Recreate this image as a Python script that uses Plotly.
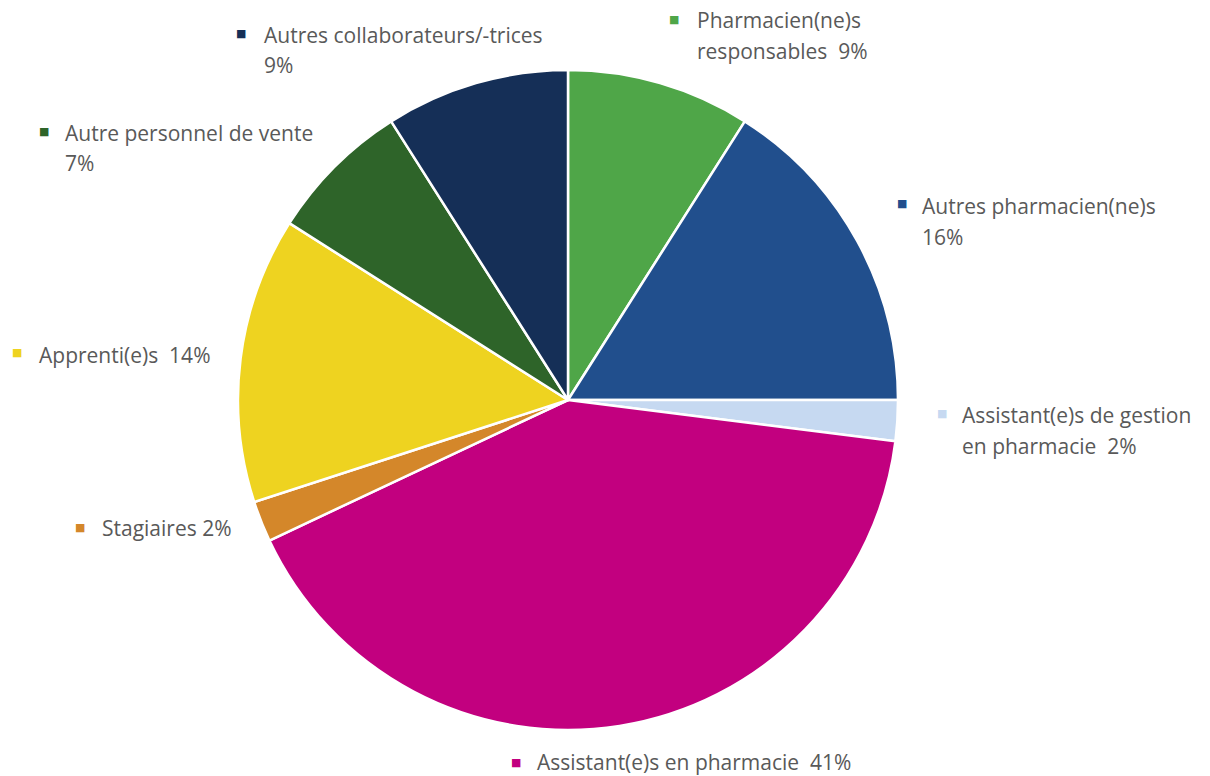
import plotly.graph_objects as go

# Staff categories, clockwise from 12 o'clock
categories = [
    "Pharmacien(ne)s responsables",
    "Autres pharmacien(ne)s",
    "Assistant(e)s de gestion en pharmacie",
    "Assistant(e)s en pharmacie",
    "Stagiaires",
    "Apprenti(e)s",
    "Autre personnel de vente",
    "Autres collaborateurs/-trices",
]
shares = [9, 16, 2, 41, 2, 14, 7, 9]

# Label text as laid out next to the pie ("|" marks a line break)
label_lines = [
    "Pharmacien(ne)s|responsables  {}%",
    "Autres pharmacien(ne)s|{}%",
    "Assistant(e)s de gestion|en pharmacie  {}%",
    "Assistant(e)s en pharmacie  {}%",
    "Stagiaires {}%",
    "Apprenti(e)s  {}%",
    "Autre personnel de vente|{}%",
    "Autres collaborateurs/-trices|{}%",
]

colors = ["#4FA648", "#214F8D", "#C6D9F1", "#C2007F",
          "#D4872A", "#EED320", "#2E6429", "#152F57"]

W, H = 1210, 776
CX, CY, R = 568, 400, 330

# Label placement in pixels: marker centre (x, y), text left x, first-line y, line step
label_pos = [
    (674, 19, 695, 20, 31),
    (902, 204, 920, 206, 31),
    (942, 413, 960, 415, 31),
    (516, 762, 535, 762, 31),
    (80, 527, 100, 528, 31),
    (17, 353, 37, 355, 31),
    (44, 131, 63, 133, 30),
    (241, 34, 262, 35, 30),
]

fig = go.Figure(go.Pie(
    labels=categories,
    values=shares,
    sort=False,
    direction="clockwise",
    rotation=0,
    marker=dict(colors=colors, line=dict(color="white", width=2.5)),
    textinfo="none",
    hoverinfo="label+percent",
    showlegend=False,
    domain=dict(x=[(CX - R) / W, (CX + R) / W],
                y=[(H - CY - R) / H, (H - CY + R) / H]),
))

annotations = []
font_family = "Segoe UI, Open Sans, Noto Sans, sans-serif"
for val, tmpl, col, (mx, my, tx, ty, step) in zip(shares, label_lines, colors, label_pos):
    annotations.append(dict(
        x=mx / W, y=1 - my / H, xref="paper", yref="paper",
        text="■", showarrow=False, xanchor="center", yanchor="middle",
        font=dict(size=11, color=col, family="DejaVu Sans"),
    ))
    for i, line in enumerate(tmpl.format(val).split("|")):
        annotations.append(dict(
            x=tx / W, y=1 - (ty + i * step) / H, xref="paper", yref="paper",
            text=line.replace("  ", "&nbsp; "), showarrow=False,
            xanchor="left", yanchor="middle",
            font=dict(size=21, color="#595959", family=font_family),
        ))

fig.update_layout(
    width=W, height=H,
    margin=dict(l=0, r=0, t=0, b=0),
    paper_bgcolor="white", plot_bgcolor="white",
    annotations=annotations,
)

fig.write_html("out.html")
